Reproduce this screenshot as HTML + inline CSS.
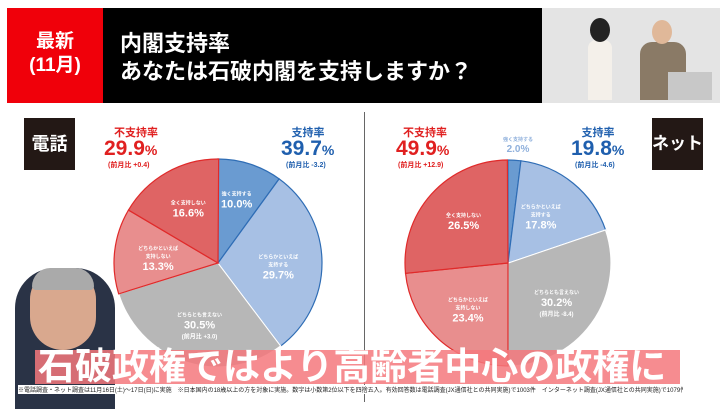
<!DOCTYPE html>
<html><head><meta charset="utf-8"><style>
body{margin:0;width:720px;height:409px;overflow:hidden;background:#fff;font-family:"Liberation Sans","Noto Sans CJK JP",sans-serif;position:relative}
.a{position:absolute;white-space:nowrap}
</style></head><body>
<div class="a" style="left:7px;top:8px;width:96px;height:95px;background:#f0000a"></div>
<div class="a" style="left:103px;top:8px;width:439px;height:95px;background:#000"></div>
<div class="a" style="left:7px;top:30px;width:96px;text-align:center;color:#fff;font-size:19px;font-weight:bold;line-height:24px">最新<br>(11月)</div>
<div class="a" style="left:120px;top:30px;color:#fff;font-size:22px;font-weight:bold;line-height:28px">内閣支持率<br>あなたは石破内閣を支持しますか？</div>
<div class="a" style="left:542px;top:8px;width:178px;height:95px;background:#e4e4e4"></div>
<div class="a" style="left:588px;top:40px;width:24px;height:60px;background:#f4f0ea;border-radius:8px 8px 0 0"></div>
<div class="a" style="left:640px;top:42px;width:46px;height:58px;background:#8a7a66;border-radius:12px 12px 0 0"></div>
<div class="a" style="left:652px;top:20px;width:20px;height:24px;background:#e0b899;border-radius:50%"></div>
<div class="a" style="left:590px;top:18px;width:20px;height:24px;background:#222;border-radius:50%"></div>
<div class="a" style="left:668px;top:72px;width:44px;height:28px;background:#c8c8c8"></div>
<div class="a" style="left:364px;top:112px;width:1px;height:290px;background:#666"></div>
<div class="a" style="left:24px;top:118px;width:51px;height:52px;background:#231815;color:#fff;font-size:18px;font-weight:bold;text-align:center;line-height:52px">電話</div>
<div class="a" style="left:652px;top:118px;width:51px;height:52px;background:#231815;color:#fff;font-size:17px;font-weight:bold;text-align:center;line-height:52px">ネット</div>
<svg class="a" style="left:0;top:0" width="720" height="409" id="s"></svg>
<div class="a" style="left:108px;top:124px;width:56px;text-align:center;color:#e02020;font-weight:bold;font-size:11px">不支持率</div>
<div class="a" style="left:104px;top:137px;color:#e02020;font-weight:bold;font-size:21px">29.9<span style="font-size:14px">%</span></div>
<div class="a" style="left:108px;top:160px;color:#e02020;font-weight:bold;font-size:7px">(前月比 +0.4)</div>
<div class="a" style="left:280px;top:124px;width:56px;text-align:center;color:#1f5fae;font-weight:bold;font-size:11px">支持率</div>
<div class="a" style="left:281px;top:137px;color:#1f5fae;font-weight:bold;font-size:21px">39.7<span style="font-size:14px">%</span></div>
<div class="a" style="left:286px;top:160px;color:#1f5fae;font-weight:bold;font-size:7px">(前月比 -3.2)</div>
<div class="a" style="left:397px;top:124px;width:56px;text-align:center;color:#e02020;font-weight:bold;font-size:11px">不支持率</div>
<div class="a" style="left:396px;top:137px;color:#e02020;font-weight:bold;font-size:21px">49.9<span style="font-size:14px">%</span></div>
<div class="a" style="left:398px;top:160px;color:#e02020;font-weight:bold;font-size:7px">(前月比 +12.9)</div>
<div class="a" style="left:570px;top:124px;width:56px;text-align:center;color:#1f5fae;font-weight:bold;font-size:11px">支持率</div>
<div class="a" style="left:571px;top:137px;color:#1f5fae;font-weight:bold;font-size:21px">19.8<span style="font-size:14px">%</span></div>
<div class="a" style="left:575px;top:160px;color:#1f5fae;font-weight:bold;font-size:7px">(前月比 -4.6)</div>
<div class="a" style="left:496px;top:136px;width:44px;text-align:center;color:#8fb0dc;font-weight:bold;font-size:5px;line-height:8px">強く支持する<br><span style="font-size:10px;line-height:12px">2.0%</span></div>
<div class="a" style="left:15px;top:268px;width:100px;height:141px;background:#2a3346;border-radius:40px 40px 0 0"></div>
<div class="a" style="left:30px;top:270px;width:66px;height:80px;background:#d9a88e;border-radius:30px 30px 34px 34px"></div>
<div class="a" style="left:32px;top:268px;width:62px;height:22px;background:#aaa;border-radius:30px 30px 6px 6px"></div>
<div class="a" style="left:35px;top:350px;width:645px;height:34px;background:rgba(245,120,125,0.85)"></div>
<div class="a" style="left:38px;top:345px;color:#fff;font-weight:bold;font-size:37px;line-height:44px">石破政権ではより高齢者中心の政権に</div>
<div class="a" style="left:18px;top:385px;width:665px;overflow:hidden;color:#222;font-size:6px;background:#fff">※電話調査・ネット調査は11月16日(土)〜17日(日)に実施　※日本国内の18歳以上の方を対象に実施。数字は小数第2位以下を四捨五入。有効回答数は電話調査(JX通信社との共同実施)で1003件　インターネット調査(JX通信社との共同実施)で1079件</div>
<script>
var s=document.getElementById('s'),NS='http://www.w3.org/2000/svg';
function pie(cx,cy,r,data){var a=0;data.forEach(function(d){var a1=a+d[0]/100*2*Math.PI;
var x0=cx+r*Math.sin(a),y0=cy-r*Math.cos(a),x1=cx+r*Math.sin(a1),y1=cy-r*Math.cos(a1);
var p=document.createElementNS(NS,'path');p.setAttribute('d','M'+cx+' '+cy+'L'+x0+' '+y0+'A'+r+' '+r+' 0 '+((a1-a)>Math.PI?1:0)+' 1 '+x1+' '+y1+'Z');
p.setAttribute('fill',d[1]);p.setAttribute('stroke',d[2]);p.setAttribute('stroke-width','1.2');s.appendChild(p);
var m=(a+a1)/2,lr=r*0.58,tx=cx+lr*Math.sin(m),ty=cy-lr*Math.cos(m);
if(d[3]){var lines=d[3].split('|');var y=ty+(d[5]||0);lines.forEach(function(t,i){var e=document.createElementNS(NS,'text');
var big=/^\d.*%$/.test(t);var sm=/前月/.test(t);
if(big)y+=4;
e.setAttribute('x',tx+(d[4]||0));e.setAttribute('y',y);e.setAttribute('text-anchor','middle');e.setAttribute('fill','#fff');e.setAttribute('font-weight','bold');
e.setAttribute('font-size',big?'11':(sm?'6':'5'));e.setAttribute('font-family','Liberation Sans, Noto Sans CJK JP, sans-serif');e.textContent=t;s.appendChild(e);
y+=big?10:8;});}
a=a1;});}
var B='#6a9bd1',LB='#a7c0e4',G='#b7b7b7',LR='#e88e8e',R='#df6464',BS='#2f6db5',RS='#e02a2a';
pie(218,263,104,[[10,B,BS,'強く支持する|10.0%',0,-10],[29.7,LB,BS,'どちらかといえば|支持する|29.7%',0,-4],[30.5,G,'#fff','どちらとも言えない|30.5%|(前月比 +3.0)',0,-4],[13.3,LR,RS,'どちらかといえば|支持しない|13.3%',0,-6],[16.6,R,RS,'全く支持しない|16.6%',0,-6]]);
pie(508,263,103,[[2,B,BS,''],[17.8,LB,BS,'どちらかといえば|支持する|17.8%',-5,-8],[30.2,G,'#fff','どちらとも言えない|30.2%|(前月比 -8.4)',0,-4],[23.4,LR,RS,'どちらかといえば|支持しない|23.4%',0,-6],[26.5,R,RS,'全く支持しない|26.5%',0,-6]]);
</script>
</body></html>
